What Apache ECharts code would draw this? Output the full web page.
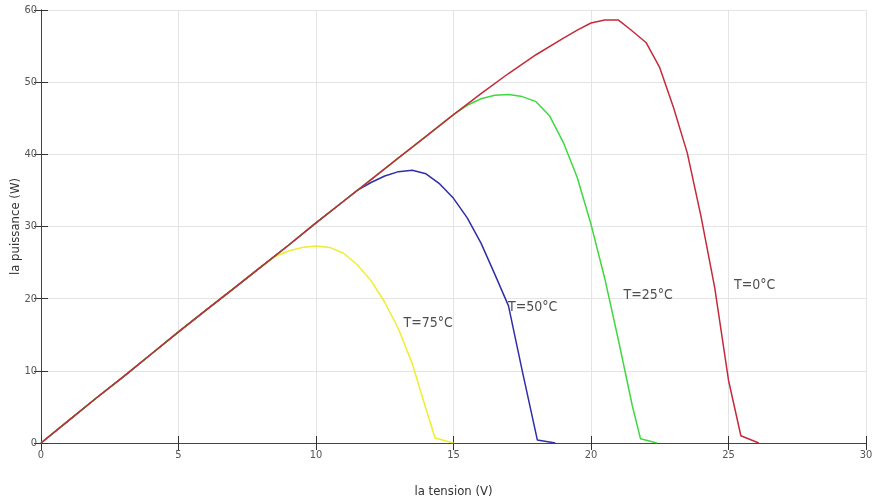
<!DOCTYPE html>
<html>
<head>
<meta charset="utf-8">
<script src="https://cdn.jsdelivr.net/npm/echarts@6/dist/echarts.min.js"></script>
<style>
html,body{margin:0;padding:0;background:#fff;}
#chart{width:873px;height:499px;}
</style>
</head>
<body>
<div id="chart"></div>
<script>
// Data
const xTicks = [0, 5, 10, 15, 20, 25, 30];
const yTicks = [0, 10, 20, 30, 40, 50, 60];

const vYellow = [0,1,2,3,4,5,6,7,8,8.5,9,9.5,10,10.5,11,11.5,12,12.5,13,13.5,14,14.33,15];
const pYellow = [0,3.1,6.2,9.2,12.3,15.4,18.4,21.4,24.4,25.8,26.6,27.1,27.3,27.1,26.3,24.7,22.5,19.5,15.8,11.0,4.7,0.7,0];

const vBlue = [0,1,2,3,4,5,6,7,8,9,10,11,11.5,12,12.5,13,13.5,14,14.5,15,15.5,16,16.5,17,17.5,18.05,18.7];
const pBlue = [0,3.1,6.2,9.2,12.3,15.4,18.4,21.4,24.4,27.4,30.5,33.5,35.0,36.1,37.0,37.6,37.8,37.3,35.9,33.9,31.2,27.7,23.4,19.0,10.0,0.4,0];

const vGreen = [0,1,2,3,4,5,6,7,8,9,10,11,12,13,14,15,15.5,16,16.5,17,17.5,18,18.5,19,19.5,20,20.5,21,21.5,21.8,22.4];
const pGreen = [0,3.1,6.2,9.2,12.3,15.4,18.4,21.4,24.4,27.4,30.5,33.5,36.5,39.5,42.5,45.5,46.8,47.7,48.2,48.3,48.0,47.3,45.3,41.6,36.8,30.3,22.8,14.2,5.2,0.6,0];

const vRed = [0,1,2,3,4,5,6,7,8,9,10,11,12,13,14,15,16,17,18,19,19.5,20,20.5,21,21.4,22,22.5,23,23.5,24,24.5,25,25.45,26.1];
const pRed = [0,3.1,6.2,9.2,12.3,15.4,18.4,21.4,24.4,27.4,30.5,33.5,36.5,39.5,42.5,45.5,48.4,51.2,53.8,56.1,57.2,58.2,58.6,58.6,57.4,55.5,52.0,46.5,40.2,31.4,21.5,8.7,1.0,0];

const seriesNames = ['T=75°C', 'T=50°C', 'T=25°C', 'T=0°C'];
const annoV = [14.08, 17.88, 22.08, 25.95];
const annoP = [16.6, 18.8, 20.4, 21.9];

const pair = (v, p) => v.map((x, i) => [x, p[i]]);
const font = "'Liberation Sans Narrow','DejaVu Sans Condensed','Liberation Sans',Arial,sans-serif";

const chart = echarts.init(document.getElementById('chart'), null, {renderer: 'canvas'});
const colors = ['#eeee30', '#2e2ea8', '#40d840', '#c42a3a'];
const curves = [pair(vYellow, pYellow), pair(vBlue, pBlue), pair(vGreen, pGreen), pair(vRed, pRed)];

const series = curves.map((d, i) => ({
  name: seriesNames[i],
  type: 'line',
  data: d,
  showSymbol: false,
  smooth: false,
  lineStyle: {color: colors[i], width: 1.5},
  itemStyle: {color: colors[i]},
  z: 2 + i,
  animation: false
}));

series.push({
  type: 'scatter',
  data: annoV.map((v, i) => ({value: [v, annoP[i]], name: seriesNames[i]})),
  symbolSize: 0,
  label: {
    show: true,
    position: 'inside',
    formatter: p => p.name,
    fontFamily: font,
    fontSize: 14,
    color: '#222'
  },
  silent: true,
  z: 10,
  animation: false
});

chart.setOption({
  animation: false,
  backgroundColor: '#fff',
  grid: {left: 41, right: 7, top: 10, bottom: 56, containLabel: false, outerBoundsMode: 'none'},
  xAxis: [{
    type: 'value', min: 0, max: 30, interval: 5,
    name: 'la tension (V)', nameLocation: 'middle', nameGap: 42, nameMoveOverlap: false,
    nameTextStyle: {fontFamily: font, fontSize: 13, color: '#333'},
    axisLine: {show: true, lineStyle: {color: '#444', width: 1}},
    axisTick: {show: true, inside: true, length: 7, lineStyle: {color: '#333'}},
    axisLabel: {fontFamily: font, fontSize: 11, color: '#555', margin: 7},
    splitLine: {show: true, lineStyle: {color: '#e4e4e4', width: 1}}
  }, {
    type: 'value', min: 0, max: 30, interval: 5, position: 'top',
    axisLine: {show: true, lineStyle: {color: '#444', width: 1}},
    axisTick: {show: true, inside: true, length: 7, lineStyle: {color: '#333'}},
    axisLabel: {show: false}, splitLine: {show: false}
  }],
  yAxis: [{
    type: 'value', min: 0, max: 60, interval: 10,
    name: 'la puissance (W)', nameLocation: 'middle', nameGap: 19, nameMoveOverlap: false,
    nameTextStyle: {fontFamily: font, fontSize: 13, color: '#333'},
    axisLine: {show: true, lineStyle: {color: '#444', width: 1}},
    axisTick: {show: true, inside: true, length: 7, lineStyle: {color: '#333'}},
    axisLabel: {fontFamily: font, fontSize: 11, color: '#555', margin: 4},
    splitLine: {show: true, lineStyle: {color: '#e4e4e4', width: 1}}
  }, {
    type: 'value', min: 0, max: 60, interval: 10, position: 'right',
    axisLine: {show: true, lineStyle: {color: '#444', width: 1}},
    axisTick: {show: true, inside: true, length: 7, lineStyle: {color: '#333'}},
    axisLabel: {show: false}, splitLine: {show: false}
  }],
  series: series
});
</script>
</body>
</html>
